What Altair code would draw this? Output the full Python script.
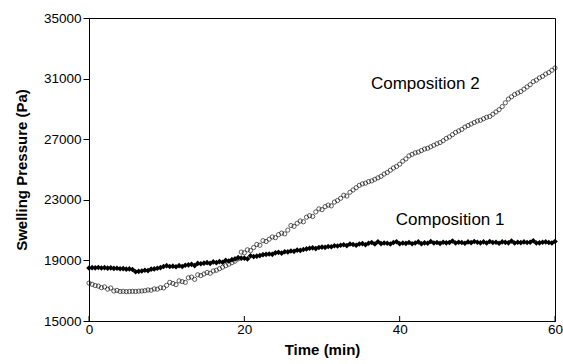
import altair as alt
import pandas as pd

# sampling grid (minutes)
time_min = [round(i * 0.4, 1) for i in range(151)]

comp1 = [
    18500, 18520, 18510, 18530, 18500, 18520, 18490, 18510, 18470, 18480,
    18450, 18460, 18420, 18440, 18400, 18250, 18280, 18300, 18350, 18330,
    18420, 18440, 18480, 18520, 18600, 18650, 18600, 18620, 18580, 18650,
    18600, 18680, 18700, 18740, 18660, 18800, 18780, 18820, 18850, 18800,
    18900, 18850, 18920, 18880, 19000, 18960, 19050, 19100, 19180, 19150,
    19150, 19100, 19300, 19250, 19280, 19320, 19380, 19400, 19420, 19400,
    19500, 19530, 19480, 19570, 19560, 19620, 19600, 19680, 19660, 19720,
    19760, 19800, 19830, 19780, 19850, 19880, 19860, 19920, 19900, 19970,
    19950, 20000, 20030, 19980, 20080, 20050, 20000, 20080, 20110, 20030,
    20130, 20180, 20080, 20230, 20110, 20150, 20130, 20080, 20180, 20230,
    20100, 20150, 20120, 20180, 20100, 20150, 20220, 20100, 20160, 20130,
    20250, 20150, 20180, 20120, 20200, 20160, 20180, 20280, 20150, 20200,
    20180, 20130, 20220, 20170, 20250, 20200, 20160, 20220, 20150, 20250,
    20180, 20200, 20130, 20220, 20190, 20160, 20280, 20150, 20200, 20170,
    20220, 20180, 20200, 20300, 20150, 20160, 20200, 20220, 20180, 20150,
    20250,
]

comp2 = [
    17500, 17420, 17340, 17300, 17200, 17250, 17100, 17180, 16980, 17020,
    16950, 16960, 16940, 16950, 16960, 16950, 16970, 16980, 17000, 17050,
    17030, 17120, 17100, 17200, 17180, 17350, 17550, 17480, 17400, 17650,
    17600, 17550, 17850, 17900, 17750, 18050, 18000, 18100, 18200, 18150,
    18300, 18350, 18450, 18550, 18650, 18750, 18850, 18950, 19100, 19550,
    19500, 19700, 19650, 19850, 20050, 20000, 20300, 20250, 20400, 20550,
    20500, 20700, 20800, 20750, 21000, 21300, 21250, 21450, 21600, 21550,
    21850, 21950, 21900, 22200, 22400, 22350, 22550, 22650, 22600, 22850,
    22950, 23100, 23300, 23250, 23500, 23650, 23800, 23950, 24050, 24100,
    24200, 24250, 24350, 24450, 24550, 24700, 24800, 24950, 25100, 25200,
    25350, 25550, 25700, 25900, 26000, 26100, 26150, 26250, 26350, 26400,
    26500, 26600, 26700, 26780, 26900, 27050, 27150, 27300, 27450, 27550,
    27650, 27800, 27900, 28000, 28100, 28200, 28250, 28350, 28450, 28500,
    28650, 28800, 28950, 29150, 29400, 29650, 29800, 29950, 30050, 30150,
    30300, 30450, 30600, 30800, 30900, 31050, 31150, 31300, 31400, 31550,
    31700,
]

y_ticks = [15000, 19000, 23000, 27000, 31000, 35000]
x_ticks = [0, 20, 40, 60]

label_text = ["Composition 1", "Composition 2"]
label_t = [46.5, 43.3]
label_p = [21690, 30660]

df1 = pd.DataFrame({"t": time_min, "p": comp1})
df2 = pd.DataFrame({"t": time_min, "p": comp2})
df_lab = pd.DataFrame({"t": label_t, "p": label_p, "txt": label_text})
df_xt = pd.DataFrame({"t": x_ticks})

xscale = alt.Scale(domain=[0, 60], nice=False)
yscale = alt.Scale(domain=[15000, 35000], nice=False)

x_axis = alt.Axis(values=x_ticks, title="Time (min)", ticks=False,
                  labelPadding=1, labelFontSize=13.5, titleFontSize=15,
                  titleFontWeight="bold", titlePadding=7, format="d",
                  labelFlush=False)
y_axis = alt.Axis(values=y_ticks, title="Swelling Pressure (Pa)", tickSize=6,
                  labelPadding=2, labelFontSize=13.5, titleFontSize=15,
                  titleFontWeight="bold", titlePadding=14, format="d",
                  labelFlush=False)

pts2 = alt.Chart(df2).mark_point(shape="circle", filled=False, size=18,
                                 strokeWidth=0.9, color="black").encode(
    x=alt.X("t:Q", scale=xscale, axis=x_axis),
    y=alt.Y("p:Q", scale=yscale, axis=y_axis),
)

pts1 = alt.Chart(df1).mark_point(shape="diamond", filled=True, size=32,
                                 color="black", opacity=1).encode(
    x=alt.X("t:Q", scale=xscale),
    y=alt.Y("p:Q", scale=yscale),
)

labels = alt.Chart(df_lab).mark_text(font="Liberation Sans", fontSize=17,
                                     color="black", align="center",
                                     baseline="middle").encode(
    x=alt.X("t:Q", scale=xscale),
    y=alt.Y("p:Q", scale=yscale),
    text="txt:N",
)

xticks = alt.Chart(df_xt).mark_rule(color="black", strokeWidth=1).encode(
    x=alt.X("t:Q", scale=xscale),
    y=alt.value(303),
    y2=alt.value(298),
)

chart = alt.layer(pts2, pts1, labels, xticks).properties(
    width=466,
    height=303,
    autosize=alt.AutoSizeParams(type="none"),
    padding={"left": 89, "top": 18, "right": 8, "bottom": 43},
    background="white",
).configure_view(
    stroke="black", strokeWidth=1
).configure_axis(
    grid=False,
    domainColor="black",
    tickColor="black",
    labelColor="black",
    titleColor="black",
    labelFont="Liberation Sans",
    titleFont="Liberation Sans",
)

chart.save("out.html", embed_options={"renderer": "svg", "actions": False})
